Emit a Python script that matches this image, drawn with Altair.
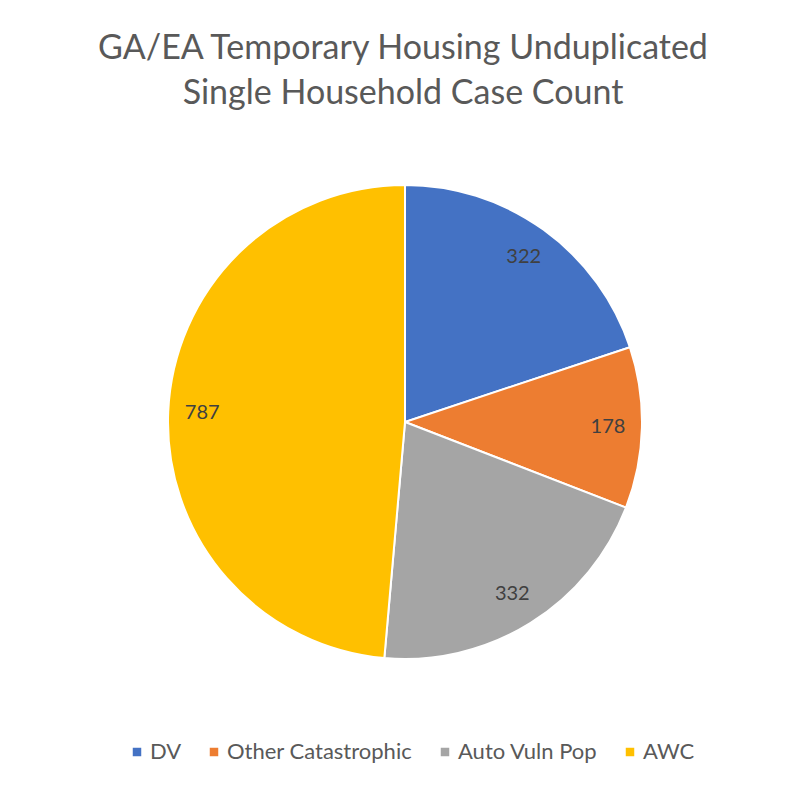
import altair as alt
import pandas as pd

categories = ["DV", "Other Catastrophic", "Auto Vuln Pop", "AWC"]
values = [322, 178, 332, 787]
colors = ["#4472C4", "#ED7D31", "#A5A5A5", "#FFC000"]
title_lines = ["GA/EA Temporary Housing Unduplicated", "Single Household Case Count"]

df = pd.DataFrame({"category": categories, "value": values, "idx": list(range(len(values)))})

FONT = "Lato"
CX, CY, R = 397, 414, 237

base = alt.Chart(df).encode(
    theta=alt.Theta("value:Q", stack=True),
    order=alt.Order("idx:Q"),
)

arcs = base.mark_arc(radius=R, stroke="white", strokeWidth=2).encode(
    x=alt.value(CX),
    y=alt.value(CY),
    color=alt.Color(
        "category:N",
        scale=alt.Scale(domain=categories, range=colors),
        sort=categories,
        legend=alt.Legend(
            title=None,
            orient="none",
            direction="horizontal",
            legendX=118,
            legendY=733,
            symbolType="square",
            symbolSize=72,
            symbolStrokeWidth=0,
            labelFont=FONT,
            labelFontSize=22,
            labelColor="#595959",
            labelLimit=400,
            columnPadding=21,
            labelOffset=2,
        ),
    ),
)

labels = base.mark_text(radius=203, font=FONT, fontSize=20, color="#404040").encode(
    x=alt.value(CX),
    y=alt.value(CY),
    text=alt.Text("value:Q"),
)

chart = (
    alt.layer(arcs, labels)
    .properties(
        width=790,
        height=772,
        autosize=alt.AutoSizeParams(type="none"),
        padding=0,
        title=alt.TitleParams(
            text=title_lines,
            anchor="middle",
            font=FONT,
            fontSize=34,
            fontWeight="normal",
            color="#595959",
            baseline="alphabetic",
            offset=-130,
            lineHeight=45,
        ),
    )
    .configure_view(stroke=None)
)

chart.save("out.html", embed_options={"renderer": "svg", "actions": False})
